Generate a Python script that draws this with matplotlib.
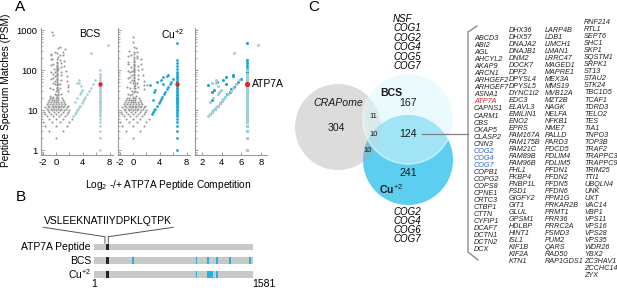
import matplotlib.pyplot as plt
import numpy as np
from matplotlib.patches import Circle

plt.rcParams['font.family'] = ['Liberation Sans', 'DejaVu Sans']
plt.rcParams['mathtext.fontset'] = 'custom'
plt.rcParams['mathtext.rm'] = 'Liberation Sans'
plt.rcParams['mathtext.it'] = 'Liberation Sans:italic'
plt.rcParams['mathtext.bf'] = 'Liberation Sans:bold'

# ---------------- panel A data: PSM counts (minus competition, plus competition)
low_count_pairs = [
    (1, 1), (1, 2), (2, 1), (1, 3), (2, 2), (3, 1), (1, 4), (2, 3), (3, 2), (4, 1),
    (2, 4), (3, 3), (4, 2), (5, 1), (2, 5), (3, 4), (4, 3), (5, 2),
    (2, 6), (3, 5), (4, 4), (5, 3), (6, 2), (2, 7), (3, 6), (4, 5), (5, 4), (6, 3), (7, 2),
    (3, 7), (4, 6), (5, 5), (6, 4), (7, 3), (8, 2), (3, 8), (4, 7), (5, 6), (6, 5), (7, 4), (8, 3),
    (3, 9), (4, 8), (5, 7), (6, 6), (7, 5), (8, 4), (9, 3),
    (4, 9), (5, 8), (6, 7), (7, 6), (8, 5), (9, 4), (10, 3),
    (4, 10), (5, 9), (6, 8), (7, 7), (8, 6), (9, 5), (10, 4),
    (5, 11), (6, 10), (7, 9), (8, 8), (9, 7), (10, 6), (11, 5),
    (6, 12), (7, 11), (8, 10), (9, 9), (10, 8), (12, 6),
    (7, 13), (8, 12), (10, 10), (11, 9), (13, 7),
]
bcs_cloud = [
    (11, 10), (12, 12), (13, 11), (14, 12), (12, 14), (15, 15), (16, 13), (17, 16), (18, 14),
    (19, 17), (20, 18), (22, 20), (21, 24), (24, 22), (25, 21), (27, 25), (26, 29), (30, 26),
    (32, 30), (34, 31), (33, 37), (37, 33), (40, 36), (42, 40), (45, 41), (44, 48), (49, 45),
    (52, 47), (55, 52), (58, 50), (60, 57), (64, 58), (68, 62), (72, 66), (78, 70), (85, 78),
    (16, 10), (22, 14), (28, 18), (36, 22), (46, 28), (58, 34), (74, 44), (95, 60),
    (9, 13), (14, 19), (20, 27), (27, 36), (36, 47), (48, 60), (60, 80),
    (8, 15), (13, 24), (22, 38), (34, 56), (52, 86), (76, 118),
    (100, 90), (120, 100), (140, 125), (110, 70), (150, 95), (130, 150), (95, 160),
    (24, 7), (30, 9), (40, 13), (34, 10), (55, 18), (70, 25), (90, 38), (120, 55),
    (160, 80), (190, 90), (250, 100), (310, 440), (354, 536), (200, 170), (230, 150),
    (70, 120), (90, 150),
]
cu_cloud = [
    (11, 11), (13, 10), (12, 13), (15, 13), (14, 16), (17, 14), (18, 17), (20, 16), (21, 20),
    (23, 19), (24, 23), (26, 22), (28, 25), (27, 30), (31, 27), (33, 31), (36, 32), (35, 39),
    (40, 35), (43, 40), (46, 42), (45, 50), (50, 44), (54, 48), (57, 53), (62, 55), (66, 60),
    (70, 64), (76, 68), (82, 75), (90, 80), (17, 11), (24, 15), (30, 19), (38, 24), (48, 30),
    (62, 38), (80, 48), (10, 14), (15, 20), (21, 29), (29, 38), (38, 50), (52, 66),
    (9, 16), (14, 25), (24, 40), (36, 60), (55, 90), (100, 95), (115, 100), (135, 120),
    (150, 140), (120, 80), (140, 90), (105, 130), (85, 140), (25, 8), (33, 11), (42, 13),
    (58, 20), (75, 30), (100, 42), (130, 60), (170, 110), (210, 160), (195, 185),
    (260, 250), (338, 332), (60, 100), (120, 180), (34, 8),
]
bcs_hits = [
    (6, 1), (7, 1), (8, 1), (9, 1), (10, 1), (11, 1), (12, 1), (14, 1), (16, 1), (18, 1),
    (21, 1), (25, 1), (30, 1), (36, 1), (44, 1), (55, 1), (14, 2), (18, 2), (24, 2), (30, 2),
    (26, 2), (38, 3), (42, 5), (43, 4), (53, 5),
]
cu_hits = [
    (7, 1), (8, 1), (9, 1), (10, 1), (12, 1), (14, 1), (16, 1), (18, 1), (20, 1), (24, 1),
    (28, 1), (32, 1), (38, 1), (44, 1), (50, 1), (61, 1), (36, 6), (25, 3), (16, 2), (46, 4),
    (53, 3), (44, 2), (66, 3), (73, 2), (69, 2), (29, 3),
]
# proteins with no PSM after competition (plotted at the cap)
bcs_only = [1, 2, 3, 4, 5, 6, 7, 8, 9, 10, 11, 12, 13, 14, 15, 16, 17, 18, 20, 22, 24, 26,
            28, 30, 32, 35, 38, 42, 50, 56, 63, 72, 82, 100]
cu_only = [1, 2, 3, 4, 5, 6, 7, 8, 9, 10, 11, 12, 13, 14, 15, 16, 17, 18, 19, 20, 22, 24,
           26, 28, 30, 33, 36, 40, 50, 55, 60, 66, 72, 80, 90, 105, 125, 150, 180, 470]
bcs_outliers = [(270, 7), (418, 2)]
atp7a_psm = 45
cap = 6.6

# ---------------- panel B data
protein_len = 1581
bait_peptide = (118, 146)
bait_seq = 'VSLEEKNATIIYDPKLQTPK'
bcs_peptides = [(380, 402), (1010, 1022), (1128, 1140), (1218, 1230), (1346, 1358), (1545, 1557)]
cu_peptides = [(1010, 1022), (1126, 1150), (1156, 1184), (1218, 1230)]

# ---------------- panel C data
venn_counts = {'crap': 304, 'bcs': 167, 'both': 124, 'cu': 241,
               'crap_bcs': 11, 'all': 10, 'crap_cu': 10}
bcs_genes_top = ['NSF', 'COG1', 'COG2', 'COG4', 'COG5', 'COG7']
cu_genes_bottom = ['COG2', 'COG4', 'COG6', 'COG7']
col1 = ['ABCD3', 'ABI2', 'AGL', 'AHCYL2', 'AKAP9', 'ARCN1', 'ARHGEF2', 'ARHGEF7', 'ASNA1',
        'ATP7A', 'CAPNS1', 'CARM1', 'CBS', 'CKAP5', 'CLASP2', 'CNN3', 'COG2', 'COG4', 'COG7',
        'COPB1', 'COPG2', 'COPS8', 'CPNE1', 'CRTC3', 'CTBP1', 'CTTN', 'CYFIP1', 'DCAF7',
        'DCTN1', 'DCTN2', 'DCX']
col2 = ['DHX36', 'DHX57', 'DNAJA2', 'DNAJB1', 'DNM2', 'DOCK7', 'DPF2', 'DPYSL4', 'DPYSL5',
        'DYNC1I2', 'EDC3', 'ELAVL3', 'EMILIN1', 'ENO2', 'EPRS', 'FAM167A', 'FAM175B', 'FAM21C',
        'FAM89B', 'FAM96B', 'FHL1', 'FKBP4', 'FNBP1L', 'FSD1', 'GIGFY2', 'GIT1', 'GLUL',
        'GPSM1', 'HDLBP', 'HINT1', 'ISL1', 'KIF1B', 'KIF2A', 'KTN1']
col3 = ['LARP4B', 'LDB1', 'LIMCH1', 'LMAN1', 'LRRC47', 'MAGED1', 'MAPRE1', 'MEX3A', 'MMS19',
        'MVB12A', 'MZT2B', 'NAGK', 'NELFA', 'NFKB1', 'NME7', 'PALLD', 'PARD3', 'PDCD5',
        'PDLIM4', 'PDLIM5', 'PFDN1', 'PFDN2', 'PFDN5', 'PFDN6', 'PPM1G', 'PRKAR2B', 'PRMT1',
        'PRR36', 'PRRC2A', 'PSMD3', 'PUM2', 'QARS', 'RAD50', 'RAP1GDS1']
col4 = ['RNF214', 'RTL1', 'SEPT6', 'SHC1', 'SKP1', 'SQSTM1', 'SRPK1', 'ST13', 'STAU2', 'STK24',
        'TBC1D5', 'TCAF1', 'TDRD3', 'TELO2', 'TES', 'TIA1', 'TNPO3', 'TOP3B', 'TRAF2',
        'TRAPPC3', 'TRAPPC9', 'TRIM25', 'TTI1', 'UBQLN4', 'UNK', 'UXT', 'VAC14', 'VBP1',
        'VPS11', 'VPS16', 'VPS28', 'VPS35', 'WDR26', 'YBX2', 'ZC3HAV1', 'ZCCHC14', 'ZYX']

GREY, PALE, CYAN, RED, OUT = '#959595', '#a6cfd4', '#1aa7d4', '#e0242b', '#c4c4c4'

W, H = 617, 288
fig = plt.figure(figsize=(W / 100, H / 100), dpi=100)


def px_axes(left, top, right, bottom):
    return fig.add_axes([left / W, 1 - bottom / H, (right - left) / W, (bottom - top) / H])


def to_xy(pairs):
    a = np.array([p[0] for p in pairs], float)
    b = np.array([p[1] for p in pairs], float)
    return np.log2(a / b), a + b


def style_scatter(ax, xlim, xticks, xlabels, ylabels):
    ax.set_yscale('log')
    ax.set_ylim(0.75, 1150)
    ax.set_xlim(*xlim)
    ax.set_xticks(xticks)
    ax.set_xticklabels(xlabels)
    ax.set_yticks([1, 10, 100, 1000])
    ax.set_yticklabels(['1', '10', '100', '1000'])
    for s in ('top', 'right'):
        ax.spines[s].set_visible(False)
    for s in ('left', 'bottom'):
        ax.spines[s].set_color('#9a9a9a')
        ax.spines[s].set_linewidth(0.8)
    ax.tick_params(which='both', direction='in', color='#9a9a9a', labelsize=6.8, pad=2.5)
    ax.tick_params(which='major', length=2.5, width=0.7)
    ax.tick_params(which='minor', length=1.5, width=0.6)
    ax.tick_params(axis='y', labelleft=ylabels)
    ax.patch.set_alpha(0)


def dots(ax, pairs, color, s):
    x, y = to_xy(pairs)
    ax.scatter(x, y, s=s, color=color, lw=0, clip_on=False)


def column(ax, values, color, s):
    ax.scatter(np.full(len(values), cap), values, s=s, color=color, lw=0)


# ---------------- panel A
ax1 = px_axes(41, 28, 113, 155)
ax2 = px_axes(118, 28, 190, 155)
ax3 = px_axes(195, 28, 267, 155)
ticks_a = [-2, 0, 2, 4, 6, 8]
labels_a = ['-2', '0', '', '4', '', '8']
style_scatter(ax1, (-2.25, 8.5), ticks_a, labels_a, True)
style_scatter(ax2, (-2.25, 8.5), ticks_a, labels_a, False)
style_scatter(ax3, (1.3, 8.6), [2, 4, 6, 8], ['2', '4', '6', '8'], False)

dots(ax1, low_count_pairs + bcs_cloud, GREY, 2.2)
dots(ax1, bcs_hits, PALE, 3.5)
column(ax1, bcs_only, PALE, 3.5)
dots(ax1, bcs_outliers, OUT, 4)
ax1.scatter([cap], [atp7a_psm], s=10, color=RED, lw=0, zorder=5)

dots(ax2, low_count_pairs + cu_cloud, GREY, 2.2)
dots(ax2, cu_hits, CYAN, 4)
column(ax2, cu_only, CYAN, 4)
ax2.scatter([cap], [atp7a_psm], s=10, color=RED, lw=0, zorder=5)

dots(ax3, bcs_outliers, OUT, 5)
dots(ax3, cu_hits, CYAN, 5)
column(ax3, cu_only, CYAN, 5)
dots(ax3, bcs_hits, PALE, 5)
column(ax3, bcs_only, PALE, 5)
ax3.scatter([cap], [atp7a_psm], s=14, color=RED, lw=0, zorder=5)
ax3.text(cap + 0.45, atp7a_psm, 'ATP7A', fontsize=7.5, va='center', ha='left')

ax1.text(0.82, 0.95, 'BCS', transform=ax1.transAxes, ha='right', va='center', fontsize=7.5)
ax2.text(0.92, 0.95, 'Cu$^{+2}$', transform=ax2.transAxes, ha='right', va='center', fontsize=7.5)
fig.text(6 / W, 1 - 90 / H, 'Peptide Spectrum Matches (PSM)', rotation=90,
         ha='center', va='center', fontsize=7.3)
fig.text(168 / W, 1 - 185 / H, 'Log$_2$ -/+ ATP7A Peptide Competition',
         ha='center', va='center', fontsize=7.3)

for letter, (lx, ly) in {'A': (20, 7), 'B': (21, 197), 'C': (314, 7)}.items():
    fig.text(lx / W, 1 - ly / H, letter, ha='center', va='center', fontsize=11)

# ---------------- panel B
axb = px_axes(94, 240.15, 253, 281.25)
axb.set_xlim(1, protein_len)
axb.set_ylim(-0.5, 2.5)
axb.axis('off')
rows = {'ATP7A Peptide': (2, []), 'BCS': (1, bcs_peptides), 'Cu$^{+2}$': (0, cu_peptides)}
for name, (row, peps) in rows.items():
    axb.barh(row, protein_len - 1, left=1, height=0.5, color='#c8c8c8', lw=0)
    axb.barh(row, bait_peptide[1] - bait_peptide[0], left=bait_peptide[0], height=0.5,
             color='#262626', lw=0)
    for start, end in peps:
        axb.barh(row, end - start, left=start, height=0.5, color='#22b2e2', lw=0)
    axb.text(-30, row, name, ha='right', va='center', fontsize=7.5, clip_on=False)
axb.text(bait_peptide[0] + 20, 3.93, bait_seq, ha='center', va='center', fontsize=7.5,
         clip_on=False)
axb.plot([-503, bait_peptide[0] - 8, bait_peptide[0] - 8], [3.44, 2.75, 2.27],
         color='#555555', lw=0.7, clip_on=False)
axb.plot([789, bait_peptide[1] - 3, bait_peptide[1] - 3], [3.44, 2.75, 2.27],
         color='#555555', lw=0.7, clip_on=False)
axb.text(1, -0.72, '1', ha='center', va='center', fontsize=7.5, clip_on=False)
axb.text(1571, -0.72, str(protein_len), ha='left', va='center', fontsize=7.5, clip_on=False)

# ---------------- panel C
axc = px_axes(270, 0, 617, 288)
axc.set_xlim(270, 617)
axc.set_ylim(288, 0)
axc.axis('off')
axc.add_patch(Circle((408, 160), 45, facecolor='#5ccff0', edgecolor='none', zorder=1))
axc.add_patch(Circle((338, 127), 43, facecolor='#a8a8a8', alpha=0.4, edgecolor='none', zorder=2))
axc.add_patch(Circle((408, 119), 45, facecolor='#d9f7fc', alpha=0.55, edgecolor='white',
                     lw=1.0, zorder=3))

big = dict(ha='center', va='center', fontsize=7.6, zorder=5, color='#1a1a1a')
small = dict(ha='center', va='center', fontsize=5.5, zorder=5, color='#1a1a1a')
axc.text(338, 103, 'CRAPome', style='italic', **big)
axc.text(336, 128, str(venn_counts['crap']), **big)
axc.text(391, 93, 'BCS', fontweight='bold', **big)
axc.text(408, 103, str(venn_counts['bcs']), **big)
axc.text(408, 134, str(venn_counts['both']), **big)
axc.text(408, 173, str(venn_counts['cu']), **big)
axc.text(391, 189, 'Cu$^{+2}$', fontweight='bold', **big)
axc.text(373, 117, str(venn_counts['crap_bcs']), **small)
axc.text(374, 134, str(venn_counts['all']), **small)
axc.text(368, 150, str(venn_counts['crap_cu']), **small)

# stacked gene names as single multi-line blocks
axc.text(393, 42.5, '\n'.join(bcs_genes_top), style='italic', fontsize=7.0, ha='left',
         va='center', linespacing=0.94)
axc.text(393, 225.5, '\n'.join(cu_genes_bottom), style='italic', fontsize=7.0, ha='left',
         va='center', linespacing=0.91)

axc.plot([422, 468], [134, 134], color='#808080', lw=0.9, zorder=6)
axc.plot([477, 468, 468, 478], [26, 32, 252, 260], color='#808080', lw=0.9)

columns = [(474, 38.7, col1), (509, 30, col2), (545, 30, col3), (584, 22.7, col4)]
for x0, y0, names in columns:
    for i, g in enumerate(names):
        if g == 'ATP7A':
            c = '#e3202a'
        elif names is col1 and g.startswith('COG'):
            c = '#2a63d8'
        else:
            c = '#222222'
        axc.text(x0, y0 + i * 7.03, g, style='italic', fontsize=5.2, ha='left',
                 va='center', color=c)

fig.savefig('out.png', dpi=100)
